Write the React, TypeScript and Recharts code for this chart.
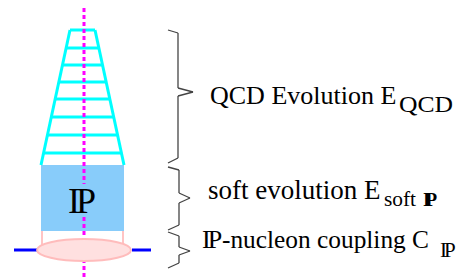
import React from "react";
import { ComposedChart, XAxis, YAxis, ReferenceLine, ReferenceArea, ReferenceDot } from "recharts";

// Diagram geometry (in the chart's own units: x 0..471, y 0..280 top-down)
const ladderTopY = 30;
const ladderBottomY = 165;
const ladderTopX = [70, 95];
const ladderBottomX = [41, 124];
const rungYs = [30, 48, 65, 82, 99, 117, 135, 153];

const pomeronBoxX = [41, 124];
const pomeronBoxY = [165, 231];

const nucleonCenter = { x: 84, y: 250 };
const nucleonLineLeft = [14, 37];
const nucleonLineRight = [132, 151];
const couplingLegsX = [42, 123];
const couplingLegsY = [231, 250];

const axisX = 84;
const axisSegments = [
  [8, 184],
  [217, 280],
];

const brace1 = [[168, 30], [178, 33], [178, 88], [193, 92], [178, 96], [178, 158], [168, 163]];
const brace2 = [[168, 167], [179, 170], [179, 193], [190, 198], [179, 203], [179, 225], [168, 230]];
const brace3 = [[168, 232], [179, 236], [179, 247], [190, 251], [179, 255], [179, 263], [168, 268]];
const braces = [brace1, brace2, brace3];

// Text pieces: [text, x, baseline y, font size, fitted width (0 = natural), letter spacing, bold]
type Piece = [string, number, number, number, number, number, boolean];
const labelPieces: Piece[] = [
  ["IP", 68, 213, 36, 0, -4, false],
  ["QCD Evolution E", 210, 104, 26, 0, 0, false],
  ["QCD", 399, 112, 23, 54, 0, false],
  ["soft evolution E", 208, 199, 27, 0, 0, false],
  ["soft", 384, 206, 22, 32, 0, false],
  ["IP", 423, 206, 19, 0, -5, true],
  ["IP", 202, 248, 26, 0, -3, false],
  ["-nucleon coupling C", 222, 248, 26, 207, 0, false],
  ["IP", 440, 257, 21, 0, -3, false],
];

const FONT = '"Liberation Serif", "Times New Roman", serif';

const lerp = (a: number, b: number, t: number) => a + (b - a) * t;
const sideX = (y: number, side: 0 | 1) =>
  lerp(ladderTopX[side], ladderBottomX[side], (y - ladderTopY) / (ladderBottomY - ladderTopY));

export default function App() {
  const segs: JSX.Element[] = [];
  ([0, 1] as const).forEach((s) => {
    segs.push(
      <ReferenceLine
        key={"side" + s}
        segment={[
          { x: ladderTopX[s], y: ladderTopY },
          { x: ladderBottomX[s], y: ladderBottomY },
        ]}
        stroke="#00FFFF"
        strokeWidth={3}
        ifOverflow="visible"
      />
    );
  });
  rungYs.forEach((y, i) => {
    segs.push(
      <ReferenceLine
        key={"rung" + i}
        segment={[
          { x: sideX(y, 0), y },
          { x: sideX(y, 1), y },
        ]}
        stroke="#00FFFF"
        strokeWidth={3}
        ifOverflow="visible"
      />
    );
  });

  const braceSegs: JSX.Element[] = [];
  braces.forEach((b, bi) => {
    for (let i = 0; i < b.length - 1; i++) {
      braceSegs.push(
        <ReferenceLine
          key={`b${bi}-${i}`}
          segment={[
            { x: b[i][0], y: b[i][1] },
            { x: b[i + 1][0], y: b[i + 1][1] },
          ]}
          stroke="#444"
          strokeWidth={1.3}
          ifOverflow="visible"
        />
      );
    }
  });

  return (
    <div style={{ position: "absolute", left: 0, top: 0, width: 471, height: 280, background: "#fff" }}>
      <ComposedChart
        width={471}
        height={280}
        margin={{ top: 0, right: 0, bottom: 0, left: 0 }}
        data={[{ x: 0, y: 0 }, { x: 471, y: 280 }]}
      >
        <XAxis type="number" dataKey="x" domain={[0, 471]} hide allowDataOverflow />
        <YAxis type="number" dataKey="y" domain={[0, 280]} reversed hide allowDataOverflow />
        <ReferenceArea
          x1={pomeronBoxX[0]}
          x2={pomeronBoxX[1]}
          y1={pomeronBoxY[0]}
          y2={pomeronBoxY[1]}
          fill="#88CCFA"
          fillOpacity={1}
          stroke="none"
          ifOverflow="visible"
        />
        {segs}
        <ReferenceDot
          x={nucleonCenter.x}
          y={nucleonCenter.y}
          r={0}
          ifOverflow="visible"
          shape={(p: any) => (
            <ellipse cx={p.cx} cy={p.cy} rx={47} ry={11} fill="#FFE0E0" stroke="#FFBCBC" strokeWidth={2} />
          )}
        />
        {couplingLegsX.map((x, i) => (
          <ReferenceLine
            key={"leg" + i}
            segment={[
              { x, y: couplingLegsY[0] },
              { x, y: couplingLegsY[1] },
            ]}
            stroke="#FFC4C4"
            strokeWidth={2}
            ifOverflow="visible"
          />
        ))}
        {[nucleonLineLeft, nucleonLineRight].map((xs, i) => (
          <ReferenceLine
            key={"nl" + i}
            segment={[
              { x: xs[0], y: nucleonCenter.y },
              { x: xs[1], y: nucleonCenter.y },
            ]}
            stroke="#0000FF"
            strokeWidth={3}
            ifOverflow="visible"
          />
        ))}
        {axisSegments.map((s, i) => (
          <ReferenceLine
            key={"ax" + i}
            segment={[
              { x: axisX, y: s[0] },
              { x: axisX, y: s[1] },
            ]}
            stroke="#FF00FF"
            strokeWidth={3}
            strokeDasharray="4 3"
            ifOverflow="visible"
          />
        ))}
        {braceSegs}
        {labelPieces.map(([t, x, y, size, fit, ls, bold], i) => (
          <ReferenceDot
            key={"t" + i}
            x={x}
            y={y}
            r={0}
            ifOverflow="visible"
            shape={(p: any) => (
              <text
                x={p.cx}
                y={p.cy}
                fontFamily={FONT}
                fontSize={size}
                fontWeight={bold ? "bold" : "normal"}
                letterSpacing={ls || undefined}
                textLength={fit || undefined}
                lengthAdjust={fit ? "spacingAndGlyphs" : undefined}
                fill="#000"
              >
                {t}
              </text>
            )}
          />
        ))}
      </ComposedChart>
    </div>
  );
}
